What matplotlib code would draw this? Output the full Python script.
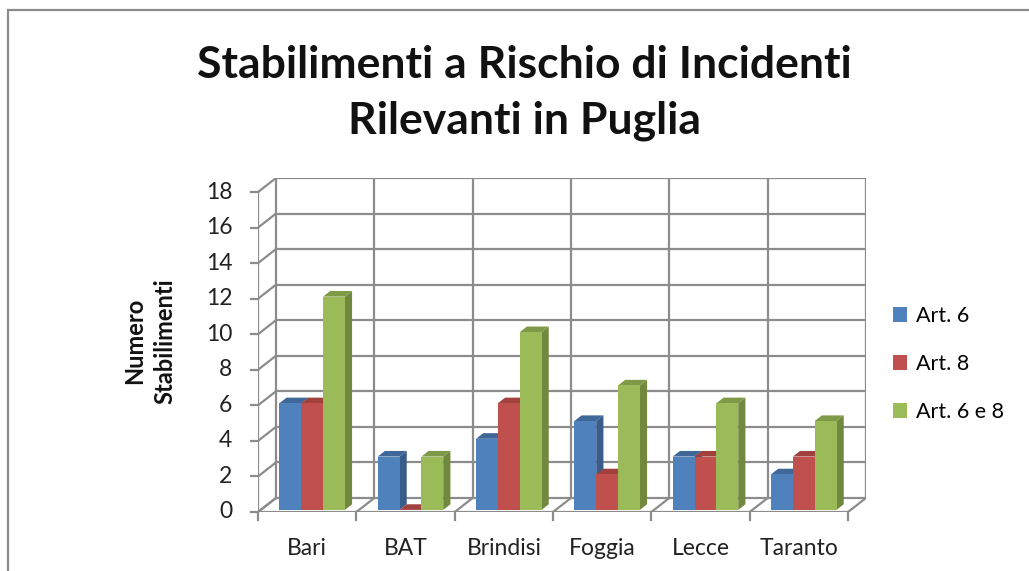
import numpy as np
import matplotlib.pyplot as plt
from matplotlib.patches import Polygon, Patch

province = ['Bari', 'BAT', 'Brindisi', 'Foggia', 'Lecce', 'Taranto']
art6 = [6, 3, 4, 5, 3, 2]
art8 = [6, 0, 6, 2, 3, 3]
art6e8 = [12, 3, 10, 7, 6, 5]
serie = ['Art. 6', 'Art. 8', 'Art. 6 e 8']
yticks = list(range(0, 19, 2))

# colori stile Excel 2007: fronte, lato, cima
col_front = ['#4F81BD', '#C0504D', '#9BBB59']
col_side = ['#385D8A', '#8C3836', '#71893F']
col_top = ['#3F6797', '#A0413E', '#7E9A46']
grid_c = '#8C8C8C'
font = 'Lato'

W, H = 1029, 571
fig = plt.figure(figsize=(W / 100, H / 100), dpi=100)

# cornice esterna
fig.patches.append(plt.Rectangle((8 / W, -0.1), 1.2, (H - 10) / H + 0.1, transform=fig.transFigure,
                                 fill=False, ec='#8A8A8A', lw=1.6))

n = len(province)
dx, dy = 0.183, 0.79   # profondita' 3D in unita' dati
ax = fig.add_axes([258 / W, (H - 512) / H, (866 - 258) / W, (512 - 178) / H])
ax.set_xlim(0, n + dx)
ax.set_ylim(0, 18 + dy)
ax.axis('off')

# parete di fondo: griglia orizzontale e verticale
for v in yticks:
    ax.plot([dx, n + dx], [v + dy, v + dy], color=grid_c, lw=1.6, zorder=1)
    ax.plot([0, dx], [v, v + dy], color=grid_c, lw=1.6, zorder=1)
    ax.plot([-0.07, 0], [v, v], color=grid_c, lw=1.6, zorder=1, clip_on=False)
    ax.text(-0.26, v, str(v), ha='right', va='center', fontsize=16.5, family=font,
            color='#222222', clip_on=False)
for i in range(n + 1):
    ax.plot([i + dx, i + dx], [dy, 18 + dy], color=grid_c, lw=1.6, zorder=1)
    ax.plot([i, i + dx], [0, dy], color=grid_c, lw=1.6, zorder=1)
    ax.plot([i, i], [0, -0.45], color=grid_c, lw=1.6, zorder=1, clip_on=False)
ax.plot([0, 0], [0, 18], color=grid_c, lw=1.6, zorder=1)
ax.plot([0, n], [0, 0], color=grid_c, lw=1.6, zorder=1)

for i, p in enumerate(province):
    ax.text(i + 0.5, -2.05, p, ha='center', va='center', fontsize=16.5, family=font,
            color='#222222', clip_on=False)

# barre 3D
z0, z1 = 0.15, 0.55
bw = 0.222
ox, oy = z0 * dx, z0 * dy
ddx, ddy = (z1 - z0) * dx, (z1 - z0) * dy
z = 3
for i in range(n):
    for k, vals in enumerate([art6, art8, art6e8]):
        v = vals[i]
        x = i + 0.19 + k * bw + ox
        y0 = oy
        side = Polygon([(x + bw, y0), (x + bw, y0 + v), (x + bw + ddx, y0 + v + ddy), (x + bw + ddx, y0 + ddy)],
                       closed=True, fc=col_side[k], ec='none', zorder=z)
        top = Polygon([(x, y0 + v), (x + bw, y0 + v), (x + bw + ddx, y0 + v + ddy), (x + ddx, y0 + v + ddy)],
                      closed=True, fc=col_top[k], ec='none', zorder=z)
        front = Polygon([(x, y0), (x + bw, y0), (x + bw, y0 + v), (x, y0 + v)],
                        closed=True, fc=col_front[k], ec='none', zorder=z + 1)
        ax.add_patch(side)
        ax.add_patch(top)
        ax.add_patch(front)
        z += 2

fig.text(524 / W, 1 - 93 / H, 'Stabilimenti a Rischio di Incidenti\nRilevanti in Puglia', ha='center',
         va='center', fontsize=32, fontweight='bold', family=font, linespacing=1.45, color='#111111')

fig.text(150 / W, 1 - 341 / H, 'Numero\nStabilimenti', ha='center', va='center', rotation=90,
         fontsize=17, fontweight='bold', family=font, linespacing=1.4, color='#111111')

handles = [Patch(fc=c, ec='none') for c in col_front]
fig.legend(handles, serie, loc='center left', bbox_to_anchor=(884 / W, 1 - 364 / H), frameon=False,
           prop={'family': font, 'size': 15.5}, handlelength=0.65, handleheight=0.65,
           handletextpad=0.45, labelspacing=1.3, borderaxespad=0)

fig.savefig('out.png', dpi=100, facecolor='white')
